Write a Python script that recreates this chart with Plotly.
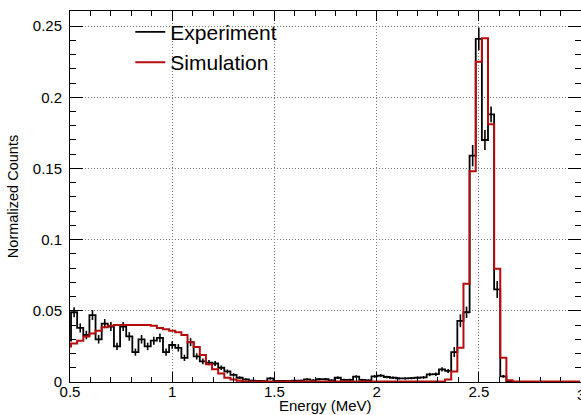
import numpy as np
import plotly.graph_objects as go

# Histogram binning (MeV)
bin_start = 0.475
bin_width = 0.03

# Experiment (normalized counts) per bin, bin centres 0.49, 0.52, ... 2.98
experiment = [
    0.029, 0.049, 0.038, 0.033, 0.047, 0.030, 0.041, 0.039, 0.025, 0.039,
    0.032, 0.021, 0.030, 0.025, 0.029, 0.031, 0.021, 0.026, 0.024, 0.017,
    0.028, 0.018, 0.0145, 0.0136, 0.013, 0.010, 0.0074, 0.005, 0.003, 0.0018,
    0.0009, 0.0008, 0.0006, 0.0025, 0.0007, 0.0008, 0.0006, 0.0009, 0.0010, 0.0018,
    0.0012, 0.0020, 0.0020, 0.0012, 0.0030, 0.0015, 0.0015, 0.0038, 0.0015, 0.0012,
    0.0040, 0.0045, 0.0035, 0.0030, 0.0026, 0.0025, 0.0027, 0.0030, 0.0032, 0.0053,
    0.0055, 0.0088, 0.0078, 0.021, 0.043, 0.049, 0.159, 0.241, 0.170, 0.188,
    0.065, 0.004, 0.0005, 0.0, 0.0, 0.0, 0.0, 0.0, 0.0, 0.0,
    0.0, 0.0, 0.0, 0.0,
]
experiment_err = [
    0.003, 0.0035, 0.0032, 0.003, 0.0035, 0.003, 0.0032, 0.0032, 0.0026, 0.0032,
    0.003, 0.0025, 0.003, 0.0026, 0.0028, 0.003, 0.0025, 0.0026, 0.0026, 0.0022,
    0.0028, 0.0022, 0.002, 0.0019, 0.0018, 0.0016, 0.0014, 0.0012, 0.001, 0.0008,
    0.0006, 0.0006, 0.0005, 0.0009, 0.0005, 0.0006, 0.0005, 0.0006, 0.0006, 0.0008,
    0.0007, 0.0008, 0.0008, 0.0007, 0.0009, 0.0007, 0.0007, 0.001, 0.0007, 0.0007,
    0.001, 0.001, 0.0009, 0.0009, 0.0008, 0.0008, 0.0008, 0.0009, 0.0009, 0.0012,
    0.0012, 0.0015, 0.0014, 0.0035, 0.0045, 0.004, 0.0075, 0.008, 0.007, 0.0055,
    0.006, 0.001, 0.0003, 0.0, 0.0, 0.0, 0.0, 0.0, 0.0, 0.0,
    0.0, 0.0, 0.0, 0.0,
]
simulation = [
    0.025, 0.027, 0.029, 0.032, 0.034, 0.036, 0.0385, 0.0395, 0.040, 0.040,
    0.040, 0.040, 0.040, 0.040, 0.0395, 0.038, 0.037, 0.036, 0.035, 0.033,
    0.028, 0.0245, 0.019, 0.0125, 0.009, 0.006, 0.003, 0.0017, 0.0008, 0.0004,
    0.0003, 0.0003, 0.0003, 0.0003, 0.0003, 0.0003, 0.0003, 0.0003, 0.0004, 0.0004,
    0.0005, 0.0004, 0.0004, 0.0003, 0.0003, 0.0003, 0.0003, 0.0003, 0.0003, 0.0003,
    0.0003, 0.0003, 0.0003, 0.0003, 0.0003, 0.0003, 0.0003, 0.0003, 0.0003, 0.0003,
    0.0003, 0.0003, 0.0017, 0.0074, 0.024, 0.069, 0.148, 0.225, 0.2415, 0.181,
    0.0795, 0.017, 0.0013, 0.0003, 0.0003, 0.0003, 0.0003, 0.0003, 0.0003, 0.0003,
    0.0003, 0.0003, 0.0003, 0.0003,
]

x_ticks = [0.5, 1, 1.5, 2, 2.5, 3]
x_ticklabels = ["0.5", "1", "1.5", "2", "2.5", "3"]
y_ticks = [0, 0.05, 0.1, 0.15, 0.2, 0.25]
y_ticklabels = ["0", "0.05", "0.1", "0.15", "0.2", "0.25"]

nb = len(experiment)
edges = bin_start + bin_width * np.arange(nb + 1)
centres = 0.5 * (edges[:-1] + edges[1:])

def step_y(v):
    return list(v) + [v[-1]]

FONT = "Liberation Sans, Arial, Helvetica, sans-serif"
RED = "#b50d0d"

fig = go.Figure()
fig.add_trace(go.Scatter(
    x=edges, y=step_y(experiment), mode="lines", line_shape="hv",
    line=dict(color="black", width=1.8), name="Experiment",
))
fig.add_trace(go.Scatter(
    x=centres, y=experiment, mode="markers", marker=dict(size=0.1, color="black", opacity=0),
    error_y=dict(type="data", array=experiment_err, visible=True, width=0, thickness=1.6, color="black"),
    showlegend=False, hoverinfo="skip",
))
fig.add_trace(go.Scatter(
    x=edges, y=step_y(simulation), mode="lines", line_shape="hv",
    line=dict(color=RED, width=2), name="Simulation",
))

axis_common = dict(
    showline=True, linecolor="black", linewidth=1, mirror="allticks",
    ticks="inside", tickcolor="black", tickwidth=1,
    showgrid=True, gridcolor="#777", griddash="1px,2px", gridwidth=1,
    zeroline=False, tickfont=dict(family=FONT, size=15, color="black"),
)

fig.update_layout(
    width=581, height=415,
    margin=dict(l=70, r=0, t=11, b=33),
    paper_bgcolor="white", plot_bgcolor="white",
    font=dict(family=FONT, color="black"),
    xaxis=dict(
        range=[0.5, 3.0], tickvals=x_ticks, ticktext=x_ticklabels, ticklen=10,
        minor=dict(dtick=0.1, tick0=0.5, ticks="inside", ticklen=5, tickcolor="black", showgrid=False),
        ticklabelstandoff=-4,
        **axis_common,
    ),
    yaxis=dict(
        range=[0, 0.2606], tickvals=y_ticks, ticktext=y_ticklabels, ticklen=13,
        minor=dict(dtick=0.01, tick0=0, ticks="inside", ticklen=6, tickcolor="black", showgrid=False),
        title=dict(text="Normalized Counts", font=dict(family=FONT, size=14.5), standoff=10),
        ticklabelstandoff=4,
        **axis_common,
    ),
    legend=dict(
        x=0.118, y=0.998, xanchor="left", yanchor="top",
        bgcolor="rgba(0,0,0,0)", borderwidth=0,
        font=dict(family=FONT, size=21, color="black"),
        tracegroupgap=0,
    ),
    showlegend=True,
    annotations=[
        dict(text="Energy (MeV)", x=0.5, xref="paper", y=0, yref="paper",
             xanchor="center", yanchor="top", yshift=-13, showarrow=False,
             font=dict(family=FONT, size=15, color="black")),
        dict(text=x_ticklabels[-1], x=x_ticks[-1], xref="x", y=0, yref="paper",
             xanchor="center", yanchor="top", yshift=-2, showarrow=False,
             font=dict(family=FONT, size=15, color="black")),
    ],
)

fig.write_html("out.html")
